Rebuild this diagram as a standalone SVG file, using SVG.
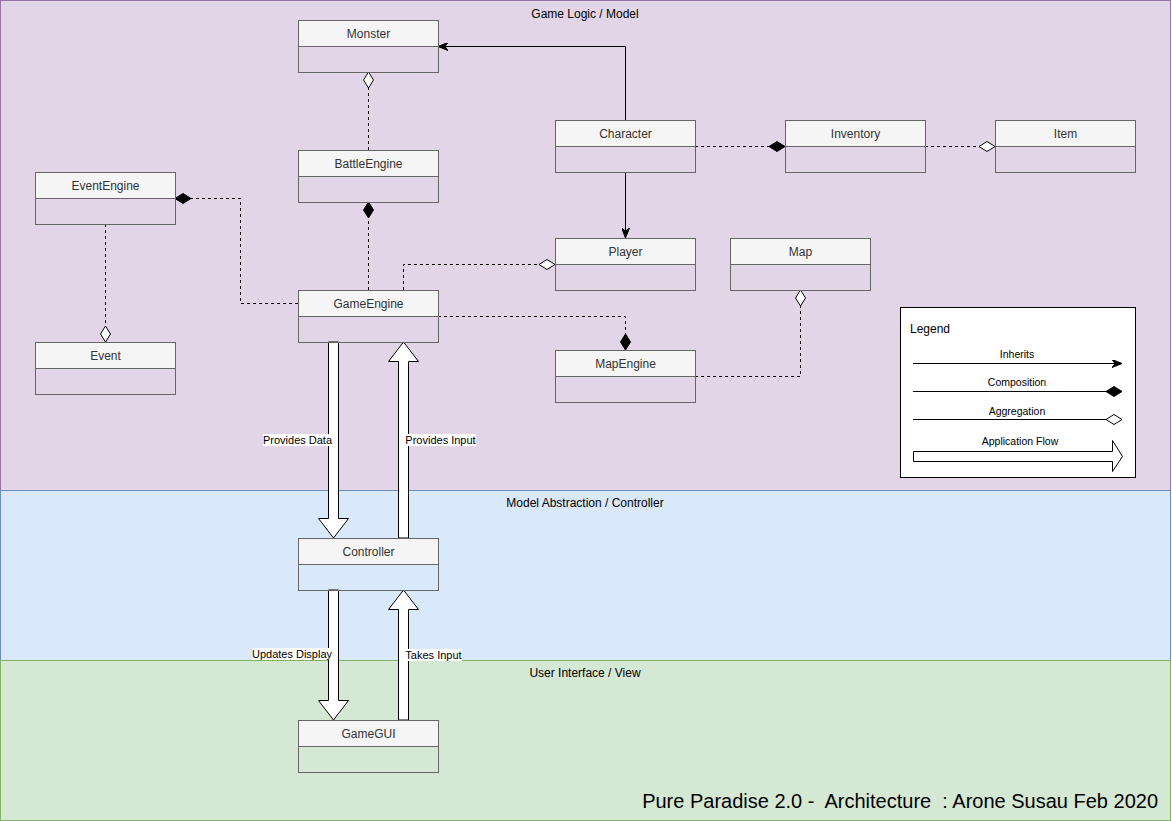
<svg xmlns="http://www.w3.org/2000/svg" width="1172" height="821" viewBox="0 0 1172 821">
  <style>
    text { font-family: "Liberation Sans", Arial, sans-serif; }
    .lane-title { font-size: 12px; fill: #000; text-anchor: middle; }
    .cls-head { fill: #f5f5f5; stroke: #666666; stroke-width: 1; }
    .cls-body { fill: none; stroke: #666666; stroke-width: 1; }
    .cls-name { font-size: 12px; fill: #333333; text-anchor: middle; }
    .solid { fill: none; stroke: #000; stroke-width: 1; }
    .dashed { fill: none; stroke: #000; stroke-width: 1; stroke-dasharray: 3 3; }
    .flow { fill: #ffffff; stroke: #000; stroke-width: 1; }
    .flow-label { font-size: 11px; fill: #000; text-anchor: middle; }
    .label-bg { fill: #ffffff; }
    .legend-label { font-size: 10.5px; fill: #000; text-anchor: middle; }
  </style>
  <defs>
    <marker id="arrow" viewBox="0 0 10 8" refX="10" refY="4" markerWidth="10" markerHeight="8" markerUnits="userSpaceOnUse" orient="auto">
      <path d="M0,0 L10,4 L0,8 L3,4 Z" fill="#000" stroke="#000" stroke-width="1" stroke-dasharray="none"/>
    </marker>
    <marker id="diamondFilled" viewBox="-1 -1 18 12" refX="16" refY="5" markerWidth="18" markerHeight="12" markerUnits="userSpaceOnUse" orient="auto">
      <path d="M0,5 L8,0 L16,5 L8,10 Z" fill="#000" stroke="#000" stroke-width="1" stroke-dasharray="none"/>
    </marker>
    <marker id="diamondOpen" viewBox="-1 -1 18 12" refX="16" refY="5" markerWidth="18" markerHeight="12" markerUnits="userSpaceOnUse" orient="auto">
      <path d="M0,5 L8,0 L16,5 L8,10 Z" fill="#ffffff" stroke="#000" stroke-width="1" stroke-dasharray="none"/>
    </marker>
  </defs>

  <!-- Swimlanes -->
  <g id="lanes">
    <rect x="0.5" y="0.5" width="1170" height="490" fill="#e1d5e7" stroke="#9673a6"/>
    <rect x="0.5" y="490.5" width="1170" height="170" fill="#dae8fc" stroke="#6c8ebf"/>
    <rect x="0.5" y="660.5" width="1170" height="160" fill="#d5e8d4" stroke="#82b366"/>
    <text class="lane-title" x="585" y="18">Game Logic / Model</text>
    <text class="lane-title" x="585" y="507">Model Abstraction / Controller</text>
    <text class="lane-title" x="585" y="677">User Interface / View</text>
  </g>

  <!-- Connectors -->
  <g id="connectors">
    <!-- Character inherits Monster / Player -->
    <path class="solid" d="M625.5,120 L625.5,46.5 L438,46.5" marker-end="url(#arrow)"/>
    <path class="solid" d="M625.5,172 L625.5,238" marker-end="url(#arrow)"/>
    <!-- Character - Inventory (composition) -->
    <path class="dashed" d="M695,146.5 L785,146.5" marker-end="url(#diamondFilled)"/>
    <!-- Inventory - Item (aggregation) -->
    <path class="dashed" d="M925,146.5 L995,146.5" marker-end="url(#diamondOpen)"/>
    <!-- BattleEngine - Monster (aggregation) -->
    <path class="dashed" d="M368.5,150 L368.5,72" marker-end="url(#diamondOpen)"/>
    <!-- GameEngine - BattleEngine (composition) -->
    <path class="dashed" d="M368.5,290 L368.5,202" marker-end="url(#diamondFilled)"/>
    <!-- GameEngine - EventEngine (composition) -->
    <path class="dashed" d="M298,303.5 L240.5,303.5 L240.5,198.5 L175,198.5" marker-end="url(#diamondFilled)"/>
    <!-- EventEngine - Event (aggregation) -->
    <path class="dashed" d="M105.5,224 L105.5,342" marker-end="url(#diamondOpen)"/>
    <!-- GameEngine - Player (aggregation) -->
    <path class="dashed" d="M403.5,290 L403.5,264.5 L555,264.5" marker-end="url(#diamondOpen)"/>
    <!-- GameEngine - MapEngine (composition) -->
    <path class="dashed" d="M438,316.5 L625.5,316.5 L625.5,350" marker-end="url(#diamondFilled)"/>
    <!-- MapEngine - Map (aggregation) -->
    <path class="dashed" d="M695,376.5 L800.5,376.5 L800.5,290" marker-end="url(#diamondOpen)"/>

    <!-- Application flow arrows -->
    <polygon class="flow" points="328.5,342 338.5,342 338.5,518.5 348.5,518.5 333.5,538 318.5,518.5 328.5,518.5"/>
    <polygon class="flow" points="398.5,538 408.5,538 408.5,361.5 418.5,361.5 403.5,342 388.5,361.5 398.5,361.5"/>
    <polygon class="flow" points="328.5,590 338.5,590 338.5,700.5 348.5,700.5 333.5,720 318.5,700.5 328.5,700.5"/>
    <polygon class="flow" points="398.5,720 408.5,720 408.5,609.5 418.5,609.5 403.5,590 388.5,609.5 398.5,609.5"/>

    <rect class="label-bg" x="263" y="434" width="69" height="12"/>
    <text class="flow-label" x="297.5" y="444">Provides Data</text>
    <rect class="label-bg" x="405" y="434" width="71" height="12"/>
    <text class="flow-label" x="440.5" y="444">Provides Input</text>
    <rect class="label-bg" x="252" y="648" width="80" height="12"/>
    <text class="flow-label" x="292" y="658">Updates Display</text>
    <rect class="label-bg" x="405" y="649" width="57" height="12"/>
    <text class="flow-label" x="433.5" y="659">Takes Input</text>
  </g>

  <!-- Classes -->
  <g id="monster">
    <rect class="cls-head" x="298.5" y="20.5" width="140" height="26"/>
    <rect class="cls-body" x="298.5" y="46.5" width="140" height="26"/>
    <text class="cls-name" x="368.5" y="38">Monster</text>
  </g>
  <g id="battle-engine">
    <rect class="cls-head" x="298.5" y="150.5" width="140" height="26"/>
    <rect class="cls-body" x="298.5" y="176.5" width="140" height="26"/>
    <text class="cls-name" x="368.5" y="168">BattleEngine</text>
  </g>
  <g id="character">
    <rect class="cls-head" x="555.5" y="120.5" width="140" height="26"/>
    <rect class="cls-body" x="555.5" y="146.5" width="140" height="26"/>
    <text class="cls-name" x="625.5" y="138">Character</text>
  </g>
  <g id="inventory">
    <rect class="cls-head" x="785.5" y="120.5" width="140" height="26"/>
    <rect class="cls-body" x="785.5" y="146.5" width="140" height="26"/>
    <text class="cls-name" x="855.5" y="138">Inventory</text>
  </g>
  <g id="item">
    <rect class="cls-head" x="995.5" y="120.5" width="140" height="26"/>
    <rect class="cls-body" x="995.5" y="146.5" width="140" height="26"/>
    <text class="cls-name" x="1065.5" y="138">Item</text>
  </g>
  <g id="event-engine">
    <rect class="cls-head" x="35.5" y="172.5" width="140" height="26"/>
    <rect class="cls-body" x="35.5" y="198.5" width="140" height="26"/>
    <text class="cls-name" x="105.5" y="190">EventEngine</text>
  </g>
  <g id="player">
    <rect class="cls-head" x="555.5" y="238.5" width="140" height="26"/>
    <rect class="cls-body" x="555.5" y="264.5" width="140" height="26"/>
    <text class="cls-name" x="625.5" y="256">Player</text>
  </g>
  <g id="map">
    <rect class="cls-head" x="730.5" y="238.5" width="140" height="26"/>
    <rect class="cls-body" x="730.5" y="264.5" width="140" height="26"/>
    <text class="cls-name" x="800.5" y="256">Map</text>
  </g>
  <g id="game-engine">
    <rect class="cls-head" x="298.5" y="290.5" width="140" height="26"/>
    <rect class="cls-body" x="298.5" y="316.5" width="140" height="26"/>
    <text class="cls-name" x="368.5" y="308">GameEngine</text>
  </g>
  <g id="event">
    <rect class="cls-head" x="35.5" y="342.5" width="140" height="26"/>
    <rect class="cls-body" x="35.5" y="368.5" width="140" height="26"/>
    <text class="cls-name" x="105.5" y="360">Event</text>
  </g>
  <g id="map-engine">
    <rect class="cls-head" x="555.5" y="350.5" width="140" height="26"/>
    <rect class="cls-body" x="555.5" y="376.5" width="140" height="26"/>
    <text class="cls-name" x="625.5" y="368">MapEngine</text>
  </g>
  <g id="controller">
    <rect class="cls-head" x="298.5" y="538.5" width="140" height="26"/>
    <rect class="cls-body" x="298.5" y="564.5" width="140" height="26"/>
    <text class="cls-name" x="368.5" y="556">Controller</text>
  </g>
  <g id="game-gui">
    <rect class="cls-head" x="298.5" y="720.5" width="140" height="26"/>
    <rect class="cls-body" x="298.5" y="746.5" width="140" height="26"/>
    <text class="cls-name" x="368.5" y="738">GameGUI</text>
  </g>

  <!-- Legend -->
  <g id="legend">
    <rect x="900.5" y="307.5" width="235" height="170" fill="#ffffff" stroke="#000"/>
    <text x="910" y="333" font-size="12" fill="#000">Legend</text>
    <text class="legend-label" x="1017" y="358">Inherits</text>
    <path class="solid" d="M913,363.5 L1122,363.5" marker-end="url(#arrow)"/>
    <text class="legend-label" x="1017" y="386">Composition</text>
    <path class="solid" d="M913,391.5 L1122,391.5" marker-end="url(#diamondFilled)"/>
    <text class="legend-label" x="1017" y="415">Aggregation</text>
    <path class="solid" d="M913,419.5 L1122,419.5" marker-end="url(#diamondOpen)"/>
    <text class="legend-label" x="1020" y="445">Application Flow</text>
    <polygon class="flow" points="913.5,451.5 1112.5,451.5 1112.5,440.5 1122.5,456.5 1112.5,471.5 1112.5,461.5 913.5,461.5"/>
  </g>

  <!-- Diagram title -->
  <text x="1158" y="808" font-size="20" fill="#000" text-anchor="end" xml:space="preserve" style="white-space: pre">Pure Paradise 2.0 -  Architecture  : Arone Susau Feb 2020</text>
</svg>
